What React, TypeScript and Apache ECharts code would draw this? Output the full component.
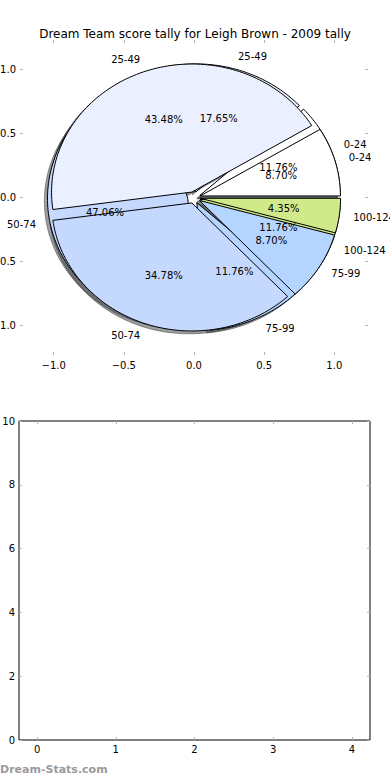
import React, { useEffect, useRef } from 'react';
import * as echarts from 'echarts';

const categories = ['0-24', '25-49', '50-74', '75-99', '100-124'];
// pie drawn on top (23 games)
const tallyTop = [2, 10, 8, 2, 1];
// pie drawn underneath (17 games)
const tallyUnder = [2, 3, 8, 2, 2];
const sliceColors = ['#ffffff', '#eaf0ff', '#c5d9ff', '#b3d5ff', '#d0ea8a'];
const pieTicks = [-1, -0.5, 0, 0.5, 1];
const lowerXTicks = [0, 1, 2, 3, 4];
const titleText = 'Dream Team score tally for Leigh Brown - 2009 tally';
const watermarkText = 'Dream-Stats.com';

const FONT = '"DejaVu Sans", "Liberation Sans", sans-serif';
const EXPLODE = 0.045;
const SHADOW = 0.022;

type Slice = { a0: number; a1: number; pct: number; i: number };

function slicesOf(tally: number[]): Slice[] {
  const total = tally.reduce((a, b) => a + b, 0);
  let acc = 0;
  return tally.map((v, i) => {
    const a0 = (acc / total) * 360;
    acc += v;
    const a1 = (acc / total) * 360;
    return { a0, a1, pct: (v / total) * 100, i };
  });
}

const pies = [slicesOf(tallyUnder), slicesOf(tallyTop)];

function wedgeData(s: Slice, ox: number, oy: number): number[][] {
  const mid = ((s.a0 + s.a1) / 2) * Math.PI / 180;
  const cx = EXPLODE * Math.cos(mid) + ox;
  const cy = EXPLODE * Math.sin(mid) + oy;
  const pts: number[][] = [[cx, cy]];
  const n = Math.max(2, Math.ceil((s.a1 - s.a0) / 1.5));
  for (let k = 0; k <= n; k++) {
    const a = (s.a0 + ((s.a1 - s.a0) * k) / n) * Math.PI / 180;
    pts.push([cx + Math.cos(a), cy + Math.sin(a)]);
  }
  return pts;
}

function fmt1(v: number) {
  return (v < 0 ? '\u2212' : '') + Math.abs(v).toFixed(1);
}

const tickStyle = (vals?: number[]) => {
  const t: any = {
    show: true,
    inside: true,
    length: 3,
    lineStyle: { color: '#b4b4b4', width: 1 },
  };
  if (vals) t.customValues = vals;
  return t;
};

const noLine = { show: false, onZero: false };

export default function App() {
  const ref = useRef<HTMLDivElement>(null);
  useEffect(() => {
    if (!ref.current) return;
    const chart = echarts.init(ref.current, null, { renderer: 'svg' });

    const shadowItems: number[][] = [];
    pies.forEach((p, pi) => p.forEach((s) => shadowItems.push([pi, s.i])));
    const labelItems: number[][] = [];
    pies.forEach((p, pi) => p.forEach((s) => { labelItems.push([pi, s.i, 0]); labelItems.push([pi, s.i, 1]); }));

    const shadowSeries = {
      type: 'custom',
      xAxisIndex: 0,
      yAxisIndex: 0,
      z: 2,
      silent: true,
      clip: false,
      data: shadowItems,
      renderItem: (params: any, api: any) => {
        const pi = api.value(0);
        const si = api.value(1);
        const s = pies[pi][si];
        const pts = wedgeData(s, -SHADOW, -SHADOW).map((q) => api.coord(q));
        return {
          type: 'polygon',
          shape: { points: pts },
          style: { fill: 'rgba(60,62,66,0.5)', stroke: 'rgba(60,62,66,0.5)', lineWidth: 1 },
        };
      },
    };

    const wedgeSeries = (pi: number, z: number) => ({
      type: 'custom',
      xAxisIndex: 0,
      yAxisIndex: 0,
      z,
      silent: true,
      clip: false,
      data: pies[pi].map((s) => [s.i, s.pct]),
      renderItem: (params: any, api: any) => {
        const s = pies[pi][params.dataIndex];
        const pts = wedgeData(s, 0, 0).map((q) => api.coord(q));
        return {
          type: 'polygon',
          shape: { points: pts },
          style: { fill: sliceColors[s.i], stroke: '#000', lineWidth: 1 },
        };
      },
    });

    const labelSeries = {
      type: 'custom',
      xAxisIndex: 0,
      yAxisIndex: 0,
      z: 10,
      silent: true,
      clip: false,
      data: labelItems,
      renderItem: (params: any, api: any) => {
        const pi = api.value(0);
        const si = api.value(1);
        const kind = api.value(2);
        const s = pies[pi][si];
        const mid = ((s.a0 + s.a1) / 2) * Math.PI / 180;
        const cx = EXPLODE * Math.cos(mid);
        const cy = EXPLODE * Math.sin(mid);
        const dist = kind === 0 ? 0.6 : 1.1;
        const x = cx + dist * Math.cos(mid);
        const y = cy + dist * Math.sin(mid);
        const p = api.coord([x, y]);
        const text = kind === 0 ? s.pct.toFixed(2) + '%' : categories[si];
        const align = kind === 0 ? 'center' : x > 0 ? 'left' : 'right';
        return {
          type: 'text',
          x: p[0],
          y: p[1],
          style: {
            text,
            fill: '#000',
            font: '10px ' + FONT,
            align,
            verticalAlign: 'middle',
            textAlign: align,
            textVerticalAlign: 'middle',
          },
        };
      },
    };

    const labelStyle = { color: '#000', fontSize: 10, fontFamily: FONT };

    chart.setOption({
      animation: false,
      backgroundColor: '#fff',
      title: {
        text: titleText,
        left: 'center',
        top: 23,
        textStyle: { fontSize: 12, fontWeight: 'normal', color: '#000', fontFamily: FONT },
      },
      graphic: [
        {
          type: 'text',
          left: 0,
          top: 764,
          style: { text: watermarkText, fill: '#9a9a9a', font: 'bold 11px ' + FONT },
        },
      ],
      grid: [
        { left: 20, top: 40, width: 348, height: 315, show: false, containLabel: false, outerBoundsMode: 'none' },
        { left: 19, top: 421, width: 351, height: 319, show: true, borderColor: '#000', borderWidth: 1, backgroundColor: 'transparent', containLabel: false, outerBoundsMode: 'none' },
      ],
      xAxis: [
        {
          type: 'value', gridIndex: 0, position: 'bottom', min: -1.24, max: 1.24,
          axisLine: noLine, splitLine: { show: false },
          axisTick: tickStyle(pieTicks),
          axisLabel: { ...labelStyle, customValues: pieTicks, formatter: fmt1, margin: 5 },
        },
        {
          type: 'value', gridIndex: 0, position: 'top', min: -1.24, max: 1.24,
          axisLine: noLine, splitLine: { show: false },
          axisTick: tickStyle(pieTicks), axisLabel: { show: false },
        },
        {
          type: 'value', gridIndex: 1, position: 'bottom', min: -0.23, max: 4.23,
          axisLine: noLine, splitLine: { show: false },
          axisTick: tickStyle(lowerXTicks),
          axisLabel: { ...labelStyle, customValues: lowerXTicks, margin: 4 },
        },
        {
          type: 'value', gridIndex: 1, position: 'top', min: -0.23, max: 4.23,
          axisLine: noLine, splitLine: { show: false },
          axisTick: tickStyle(lowerXTicks), axisLabel: { show: false },
        },
      ],
      yAxis: [
        {
          type: 'value', gridIndex: 0, position: 'left', min: -1.23, max: 1.23,
          axisLine: noLine, splitLine: { show: false },
          axisTick: tickStyle(pieTicks),
          axisLabel: { ...labelStyle, customValues: pieTicks, formatter: fmt1, margin: 4 },
        },
        {
          type: 'value', gridIndex: 0, position: 'right', min: -1.23, max: 1.23,
          axisLine: noLine, splitLine: { show: false },
          axisTick: tickStyle(pieTicks), axisLabel: { show: false },
        },
        {
          type: 'value', gridIndex: 1, position: 'left', min: 0, max: 10, interval: 2,
          axisLine: noLine, splitLine: { show: false },
          axisTick: tickStyle(),
          axisLabel: { ...labelStyle, margin: 4 },
        },
        {
          type: 'value', gridIndex: 1, position: 'right', min: 0, max: 10, interval: 2,
          axisLine: noLine, splitLine: { show: false },
          axisTick: tickStyle(),
          axisLabel: { show: false },
        },
      ],
      series: [shadowSeries, wedgeSeries(0, 3), wedgeSeries(1, 4), labelSeries],
    });

    return () => chart.dispose();
  }, []);

  return (
    <div
      ref={ref}
      style={{ position: 'absolute', left: 0, top: 0, width: 390, height: 780 }}
    />
  );
}
